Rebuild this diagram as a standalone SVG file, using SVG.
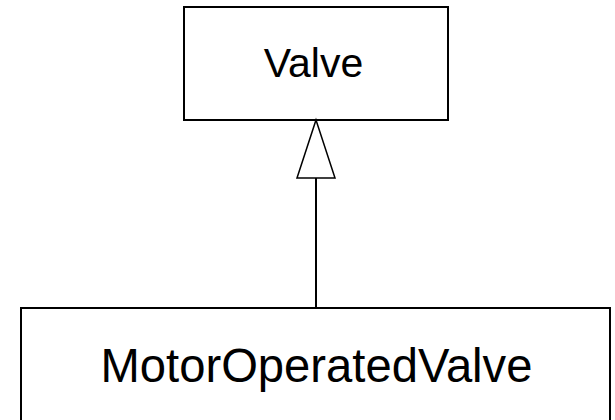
<svg xmlns="http://www.w3.org/2000/svg" width="615" height="420" viewBox="0 0 615 420">
  <style>
    .box { fill: #ffffff; stroke: #000000; stroke-width: 2; }
    .label { font-family: "Liberation Sans", Arial, sans-serif; fill: #000000; text-anchor: middle; }
    .edge { fill: none; stroke: #000000; stroke-width: 2; }
    .head { fill: #ffffff; stroke: #000000; stroke-width: 1.5; stroke-linejoin: miter; }
  </style>
  <rect width="615" height="420" fill="#ffffff"/>
  <g id="node-valve">
    <rect class="box" x="184" y="7" width="264" height="113"/>
    <text class="label" x="313.5" y="77" font-size="41">Valve</text>
  </g>
  <g id="node-motor-operated-valve">
    <rect class="box" x="21" y="308" width="589" height="130"/>
    <text class="label" x="316.5" y="382" font-size="47.2">MotorOperatedValve</text>
  </g>
  <g id="connectors">
    <line class="edge" x1="316" y1="308" x2="316" y2="178"/>
    <polygon class="head" points="316,120 335,178 297,178"/>
  </g>
</svg>
